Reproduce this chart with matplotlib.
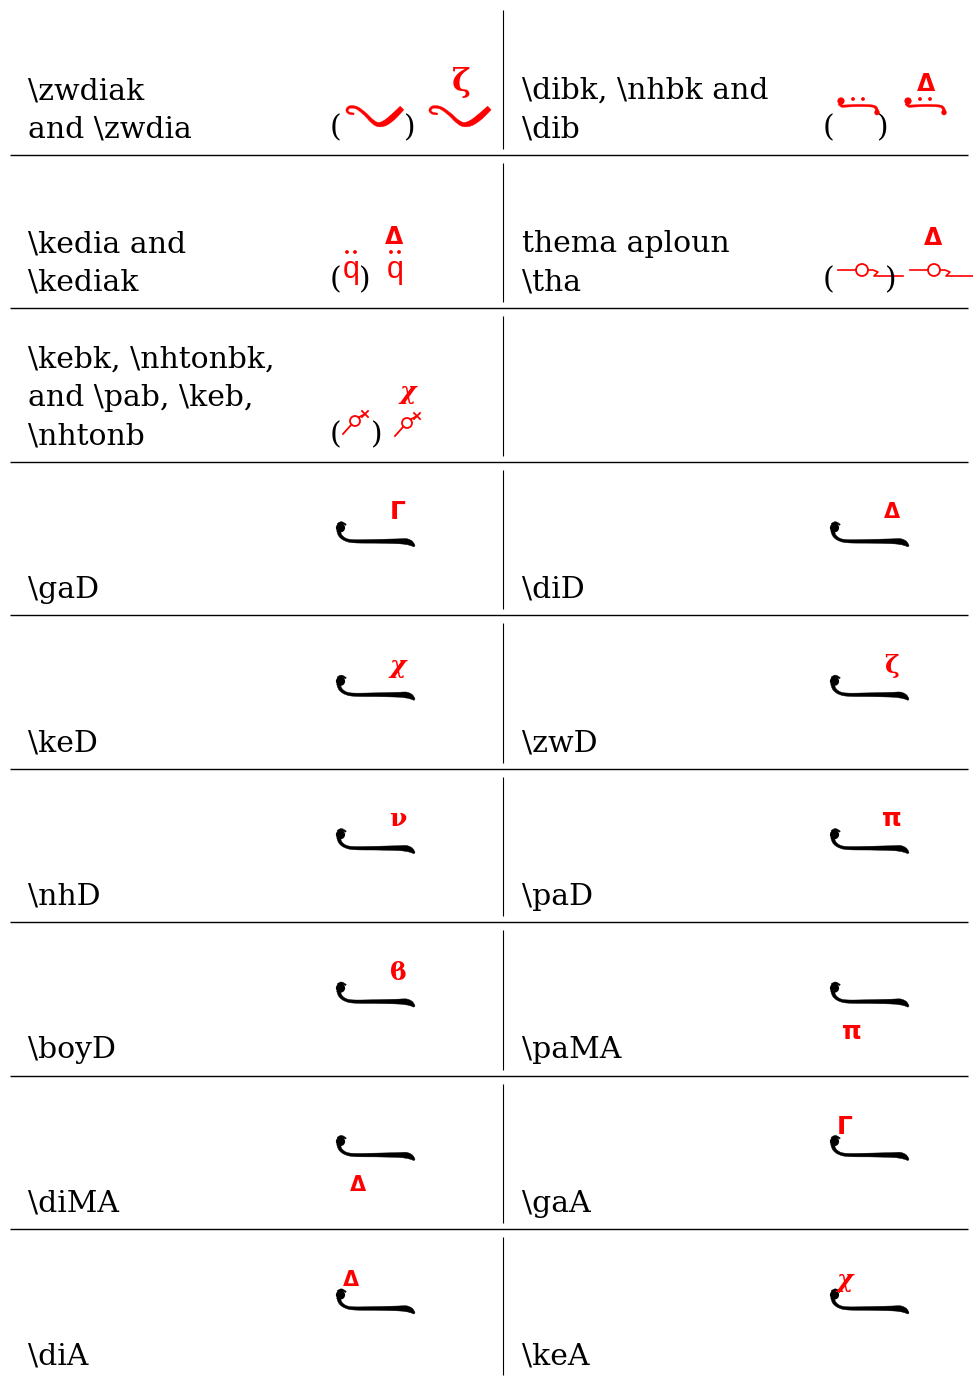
import numpy as np
import matplotlib
matplotlib.use("Agg")
import matplotlib.pyplot as plt
from matplotlib.patches import Polygon, Circle

# table text, one list of lines per cell (left column / right column)
left_labels = [
    ["\\zwdiak", "and \\zwdia"],
    ["\\kedia and", "\\kediak"],
    ["\\kebk, \\nhtonbk,", "and \\pab, \\keb,", "\\nhtonb"],
    ["\\gaD"], ["\\keD"], ["\\nhD"], ["\\boyD"], ["\\diMA"], ["\\diA"],
]
right_labels = [
    ["\\dibk, \\nhbk and", "\\dib"],
    ["thema aploun", "\\tha"],
    [],
    ["\\diD"], ["\\zwD"], ["\\paD"], ["\\paMA"], ["\\gaA"], ["\\keA"],
]
# rows with the long stroke: (row, col, letter, where the letter sits)
stroke_rows = [3, 3, 4, 4, 5, 5, 6, 6, 7, 7, 8, 8]
stroke_cols = [0, 1, 0, 1, 0, 1, 0, 1, 0, 1, 0, 1]
stroke_letters = ["Γ", "Δ", "χ", "ζ", "ν", "π", "ϐ", "π", "Δ", "Γ", "Δ", "χ"]
stroke_place = ["D", "D", "D", "D", "D", "D", "D", "MA", "MA", "A", "A", "A"]

RED = "#ff0000"
W, H = 973, 1378
fig = plt.figure(figsize=(W / 100, H / 100), dpi=100)
ax = fig.add_axes([0, 0, 1, 1])
ax.set_xlim(0, W)
ax.set_ylim(H, 0)
ax.axis("off")

ROW_H = 153.43
def row_bottom(i):
    return 155 + ROW_H * i

COL_X = [28, 522]


def catmull(pts, n=12):
    pts = np.asarray(pts, float)
    p = np.vstack([pts[0], pts, pts[-1]])
    out = []
    for i in range(1, len(p) - 2):
        p0, p1, p2, p3 = p[i - 1], p[i], p[i + 1], p[i + 2]
        for t in np.linspace(0, 1, n, endpoint=False):
            t2, t3 = t * t, t * t * t
            out.append(0.5 * ((2 * p1) + (-p0 + p2) * t + (2 * p0 - 5 * p1 + 4 * p2 - p3) * t2
                              + (-p0 + 3 * p1 - 3 * p2 + p3) * t3))
    out.append(pts[-1])
    return np.array(out)


def vstroke(pts, widths, x0, y0, color, sx=1.0):
    pts = np.asarray(pts, float) * [sx, 1]
    c = catmull(pts)
    w = np.interp(np.linspace(0, len(widths) - 1, len(c)), np.arange(len(widths)), widths)
    d = np.gradient(c, axis=0)
    nrm = np.stack([-d[:, 1], d[:, 0]], 1)
    nrm /= np.linalg.norm(nrm, axis=1)[:, None] + 1e-9
    a = c + nrm * w[:, None] / 2
    b = c - nrm * w[:, None] / 2
    poly = np.vstack([a, b[::-1]]) + [x0, y0]
    ax.add_patch(Polygon(poly, closed=True, fc=color, ec=color, lw=0.3))


def dot(x, y, r, color=RED):
    ax.add_patch(Circle((x, y), r, fc=color, ec="none"))


def paren(x, y, s):
    ax.text(x, y, s, fontsize=21.5, family="DejaVu Serif", ha="left", va="baseline")


def oligon(x0, yc):
    vstroke([(1.5, -11), (3.5, -5.5), (9, -1.5), (18, 0), (40, 0), (60, 0),
             (69, 0.3), (74, 2), (77.5, 5)],
            [3.8, 3.2, 2.8, 3.2, 3.8, 4.8, 6, 5, 1.5], x0, yc, "black")
    dot(x0 + 3.5, yc - 13.5, 4.6, "black")
    vstroke([(1, -16.5), (4.5, -18.5), (9, -16.5)], [3, 2.2, 1.2], x0, yc, "black")


def wave(x0, y0, sx=1.0):
    vstroke([(7, 7), (2, 6), (0, 3), (3, 0), (10, 1), (18, 7), (25, 14), (31, 17.5),
             (38, 16), (46, 10), (55, 1)],
            [1.8, 2, 2.2, 2.5, 2.6, 3, 3.5, 4.2, 5.5, 6, 5], x0, y0, RED, sx)


def dib(x0, yl):
    dot(x0 + 3, yl - 4, 3.6)
    vstroke([(1, -1.5), (4, 1), (8, 1), (20, 0.5), (34, 1), (38, 3), (39, 6)],
            [2.8, 2.5, 2.2, 2.2, 2.2, 2.6, 3], x0, yl, RED)
    dot(x0 + 39, yl + 7.5, 2.7)
    dot(x0 + 15, yl - 6, 1.9)
    dot(x0 + 25, yl - 6, 1.9)


def tha(x0, yl, end):
    ax.plot([x0, x0 + 18], [yl, yl], color=RED, lw=1.2)
    ax.add_patch(Circle((x0 + 24, yl), 6, fc="none", ec=RED, lw=1.3))
    ax.plot([x0 + 30, x0 + 35, x0 + 40, x0 + 36, end], [yl, yl, yl + 2, yl + 6, yl + 6],
            color=RED, lw=1.2)


def pelaston(xc, yc):
    ax.add_patch(Circle((xc, yc), 5, fc="none", ec=RED, lw=1.3))
    ax.plot([xc - 3.5, xc - 12], [yc + 3.5, yc + 13], color=RED, lw=1.3)
    ax.plot([xc + 3.5, xc + 10], [yc - 3.5, yc - 7], color=RED, lw=1.3)
    cx, cy = xc + 10, yc - 7
    ax.plot([cx - 3, cx + 3], [cy - 3, cy + 3], color=RED, lw=1.3)
    ax.plot([cx - 3, cx + 3], [cy + 3, cy - 3], color=RED, lw=1.3)


def red_letter(x, y, s, size):
    if s in ("Δ", "Γ", "π"):
        fam, wt, st = "DejaVu Sans", "bold", "normal"
    elif s in ("χ",):
        fam, wt, st = "DejaVu Serif", "bold", "italic"
    else:
        fam, wt, st = "DejaVu Serif", "bold", "normal"
    ax.text(x, y, s, fontsize=size, family=fam, weight=wt, style=st,
            color=RED, ha="center", va="center")


# rules
for i in range(8):
    ax.plot([10, 968], [row_bottom(i), row_bottom(i)], color="black", lw=1.0,
            solid_capstyle="butt")
tops = [10] + [row_bottom(i) + 8 for i in range(8)]
bots = [row_bottom(i) - 6 for i in range(8)] + [1375]
for t, b in zip(tops, bots):
    ax.plot([503, 503], [t, b], color="black", lw=0.8, solid_capstyle="butt")

# labels
for col, labels in enumerate([left_labels, right_labels]):
    for r, lines in enumerate(labels):
        base = row_bottom(r) - 17.5
        for k, line in enumerate(reversed(lines)):
            ax.text(COL_X[col], base - 38.5 * k, line, fontsize=21.5,
                    family="DejaVu Serif", ha="left", va="baseline")

# row 0: zwdia and dib
paren(330, 136, "(")
wave(347, 107)
paren(404, 136, ")")
wave(430, 107, 1.08)
red_letter(461, 83, "ζ", 23)
paren(823, 136, "(")
dib(838, 105)
paren(877, 136, ")")
dib(905, 105)
red_letter(926, 84, "Δ", 17)

# row 1: kedia and tha
paren(330, 288, "(")
for qx in (351, 395):
    ax.text(qx, 278, "q", fontsize=22, family="Liberation Sans", color=RED,
            ha="center", va="baseline")
    dot(qx - 4, 252, 1.9)
    dot(qx + 4, 252, 1.9)
paren(359, 288, ")")
red_letter(394, 237, "Δ", 17)
paren(823, 288, "(")
tha(838, 270, 903)
paren(885, 288, ")")
tha(910, 270, 973)
red_letter(933, 238, "Δ", 17)

# row 2: kebk
paren(330, 443, "(")
pelaston(355, 421)
paren(371, 443, ")")
pelaston(407, 423)
red_letter(408, 392, "χ", 18)

# rows with the long stroke
offs = {"D": (61, -29), "MA": (21, 30), "A": (14, -28)}
for r, c, s, p in zip(stroke_rows, stroke_cols, stroke_letters, stroke_place):
    x0 = 337 + 494 * c
    yc = row_bottom(r) - 74
    oligon(x0, yc)
    dx, dy = offs[p]
    red_letter(x0 + dx, yc + dy, s, 15 if s == "Δ" else 18)

fig.savefig("out.png", dpi=100)
